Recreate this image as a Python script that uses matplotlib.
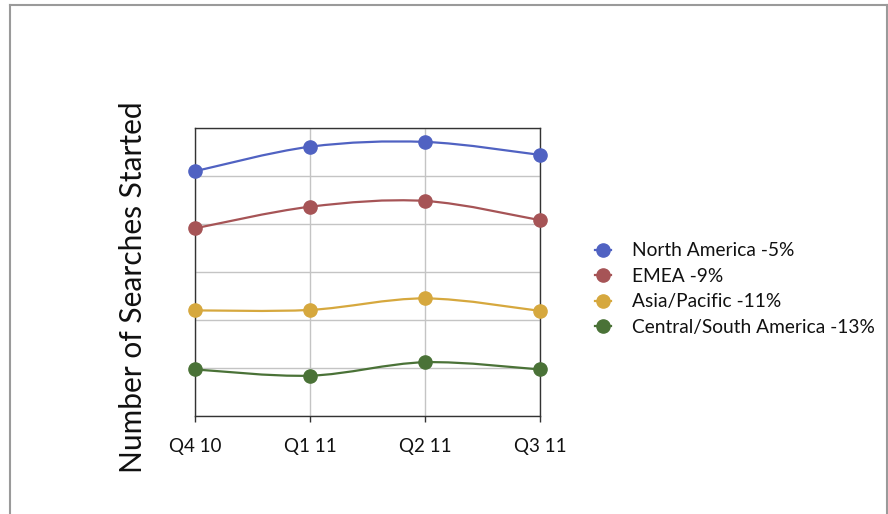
import numpy as np
import matplotlib
matplotlib.use("Agg")
import matplotlib.pyplot as plt
from matplotlib.path import Path
from matplotlib.patches import PathPatch
from matplotlib.lines import Line2D

plt.rcParams['font.family'] = ['Lato', 'DejaVu Sans']

quarters = ["Q4 10", "Q1 11", "Q2 11", "Q3 11"]
series_names = ["North America -5%", "EMEA -9%", "Asia/Pacific -11%", "Central/South America -13%"]
north_america = [5.10, 5.61, 5.71, 5.44]
emea = [3.91, 4.36, 4.48, 4.08]
asia_pacific = [2.20, 2.21, 2.45, 2.19]
central_south = [0.97, 0.84, 1.12, 0.97]
colors = ["#5062C2", "#A65456", "#D6A83E", "#4A7237"]

W, H = 888, 514
fig = plt.figure(figsize=(W / 100, H / 100), dpi=100)
ax = fig.add_axes([195 / W, 1 - 416 / H, 345 / W, 288 / H])

x = np.arange(len(quarters), dtype=float)


def smooth_path(xs, ys):
    pts = np.column_stack([xs, ys])
    n = len(pts)
    verts = [pts[0]]
    codes = [Path.MOVETO]
    for i in range(n - 1):
        p0 = pts[max(i - 1, 0)]
        p1 = pts[i]
        p2 = pts[i + 1]
        p3 = pts[min(i + 2, n - 1)]
        c1 = p1 + (p2 - p0) / 6.0
        c2 = p2 - (p3 - p1) / 6.0
        verts += [c1, c2, p2]
        codes += [Path.CURVE4] * 3
    return Path(verts, codes)


handles = []
for ys, c, name in zip([north_america, emea, asia_pacific, central_south], colors, series_names):
    patch = PathPatch(smooth_path(x, np.array(ys)), facecolor='none', edgecolor=c, lw=1.6, zorder=3)
    ax.add_patch(patch)
    ax.plot(x, ys, linestyle='none', marker='o', markersize=9.5, color=c, clip_on=False, zorder=4)
    handles.append(Line2D([], [], color=c, lw=1.6, marker='o', markersize=9.5, label=name))

ax.set_xlim(0, 3)
ax.set_ylim(0, 6)
ax.set_xticks(x)
ax.set_xticklabels(quarters, fontsize=13.5, color='#111111')
ax.set_yticks(np.arange(0, 7, 1))
ax.set_yticklabels([])
ax.tick_params(axis='y', length=0)
ax.tick_params(axis='x', length=4, width=1, color='#333333', pad=12)
ax.grid(True, color='#C4C4C4', lw=1)
ax.set_axisbelow(True)
for s in ax.spines.values():
    s.set_color('#333333')
    s.set_linewidth(1)

fig.text(133 / W, 1 - 287 / H, "Number of Searches Started", rotation=90, fontsize=21.5,
         ha='center', va='center', color='#111111')

leg = fig.legend(handles=handles, loc='center left', bbox_to_anchor=(595 / W, 1 - 289 / H),
                 frameon=False, fontsize=13.8, handlelength=0.85, handletextpad=1.1,
                 labelspacing=0.44, borderpad=0, borderaxespad=0)
for t in leg.get_texts():
    t.set_color('#111111')

# outer frame
frame_c = '#9A9A9A'
fig.add_artist(Line2D([9.7 / W, 9.7 / W], [0, 1 - 5 / H], transform=fig.transFigure, color=frame_c, lw=1.5))
fig.add_artist(Line2D([9.7 / W, 886.8 / W], [1 - 5 / H, 1 - 5 / H], transform=fig.transFigure, color=frame_c, lw=1.5))
fig.add_artist(Line2D([886.8 / W, 886.8 / W], [0, 1 - 5 / H], transform=fig.transFigure, color=frame_c, lw=1.5))

fig.savefig("out.png", dpi=100)
